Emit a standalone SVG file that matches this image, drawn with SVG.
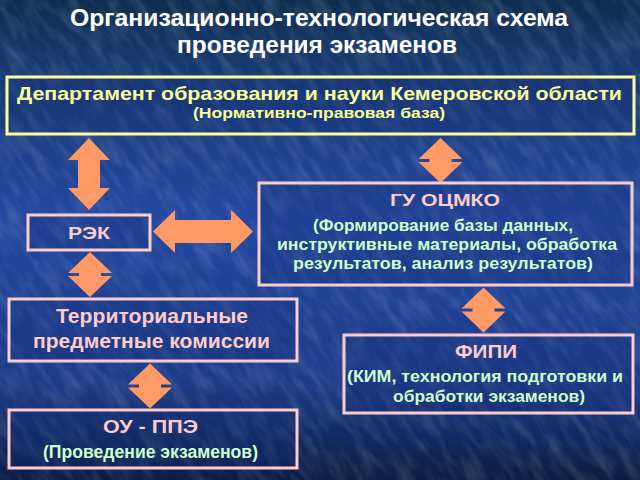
<svg xmlns="http://www.w3.org/2000/svg" xmlns:xlink="http://www.w3.org/1999/xlink" width="640" height="480" viewBox="0 0 640 480">
<defs>
<linearGradient id="bg" x1="0" y1="0" x2="0" y2="1">
<stop offset="0" stop-color="#0f2d50"/>
<stop offset="0.15" stop-color="#183a72"/>
<stop offset="0.45" stop-color="#2448a0"/>
<stop offset="0.8" stop-color="#1d3c88"/>
<stop offset="1" stop-color="#0b1d42"/>
</linearGradient>
<filter id="tex" x="0" y="0" width="100%" height="100%">
<feTurbulence type="fractalNoise" baseFrequency="0.1 0.03" numOctaves="3" seed="7" result="n"/>
<feColorMatrix in="n" type="matrix" values="0 0 0 0 0.75  0 0 0 0 0.82  0 0 0 0 1  0 0 0 1.5 -0.6"/>
</filter>
<polygon id="dia" points="0,-22.5 22,-1.5 11,-1.5 11,1.5 22,1.5 0,22.5 -22,1.5 -11,1.5 -11,-1.5 -22,-1.5"/>
</defs>
<style>
.box{fill:#142f78;fill-opacity:0.3;stroke:#ffcccc;stroke-width:3}
.ybox{fill:#142f78;fill-opacity:0.3;stroke:#ffff99;stroke-width:3}
.arr{fill:#ff9966}
text{font-family:"Liberation Sans",Arial,sans-serif;font-weight:bold;text-anchor:middle}
.title{fill:#ffffff;font-size:24px}
.y1{fill:#ffff99;font-size:19px}
.y2{fill:#ffff99;font-size:14px}
.pk{fill:#ffcccc;font-size:17px}
.gr{fill:#ccffcc;font-size:16px}
</style>
<rect width="640" height="480" fill="url(#bg)"/>
<rect x="-300" y="-300" width="1240" height="1080" filter="url(#tex)" opacity="0.2" transform="rotate(-35 320 240)"/>
<g id="title">
<text class="title" x="319" y="26" textLength="498" lengthAdjust="spacingAndGlyphs">Организационно-технологическая схема</text>
<text class="title" x="317" y="53" textLength="280" lengthAdjust="spacingAndGlyphs">проведения экзаменов</text>
</g>
<g id="connectors">
<polygon class="arr" points="89,138 110,160 100,160 100,188 110,188 89,210 68,188 78,188 78,160 68,160"/>
<polygon class="arr" points="153,231.5 175,210 175,220 231,220 231,210 253,231.5 231,253 231,243 175,243 175,253"/>
<use href="#dia" class="arr" x="440.5" y="160.5"/>
<use href="#dia" class="arr" x="90" y="274.5"/>
<use href="#dia" class="arr" x="483.5" y="310"/>
<use href="#dia" class="arr" x="150" y="386"/>
</g>
<g id="dept">
<rect class="ybox" x="7" y="77" width="627" height="57"/>
<text class="y1" x="319.5" y="100" textLength="605" lengthAdjust="spacingAndGlyphs">Департамент образования и науки Кемеровской области</text>
<text class="y2" x="319" y="118" textLength="252" lengthAdjust="spacingAndGlyphs">(Нормативно-правовая база)</text>
</g>
<g id="rek">
<rect class="box" x="28" y="215" width="122" height="35"/>
<text class="pk" x="89" y="239" textLength="42" lengthAdjust="spacingAndGlyphs">РЭК</text>
</g>
<g id="gu">
<rect class="box" x="259" y="183" width="373" height="102"/>
<text class="pk" x="445" y="206" textLength="110" lengthAdjust="spacingAndGlyphs">ГУ ОЦМКО</text>
<text class="gr" x="443" y="231" textLength="260" lengthAdjust="spacingAndGlyphs">(Формирование базы данных,</text>
<text class="gr" x="447" y="250" textLength="340" lengthAdjust="spacingAndGlyphs">инструктивные материалы, обработка</text>
<text class="gr" x="443" y="269" textLength="300" lengthAdjust="spacingAndGlyphs">результатов, анализ результатов)</text>
</g>
<g id="terr">
<rect class="box" x="9" y="299" width="288" height="62"/>
<text class="pk" x="152" y="322.5" style="font-size:19.5px" textLength="192" lengthAdjust="spacingAndGlyphs">Территориальные</text>
<text class="pk" x="151.5" y="348" style="font-size:19.5px" textLength="237" lengthAdjust="spacingAndGlyphs">предметные комиссии</text>
</g>
<g id="ou">
<rect class="box" x="9" y="410" width="288" height="58"/>
<text class="pk" x="150.5" y="433" style="font-size:18.5px" textLength="95" lengthAdjust="spacingAndGlyphs">ОУ - ППЭ</text>
<text class="gr" x="150.5" y="458" style="font-size:17.5px" textLength="215" lengthAdjust="spacingAndGlyphs">(Проведение экзаменов)</text>
</g>
<g id="fipi">
<rect class="box" x="344" y="335" width="289" height="78"/>
<text class="pk" x="486" y="358" style="font-size:18px" textLength="62" lengthAdjust="spacingAndGlyphs">ФИПИ</text>
<text class="gr" x="485" y="382" textLength="276" lengthAdjust="spacingAndGlyphs">(КИМ, технология подготовки и</text>
<text class="gr" x="489" y="402" textLength="192" lengthAdjust="spacingAndGlyphs">обработки экзаменов)</text>
</g>
</svg>
